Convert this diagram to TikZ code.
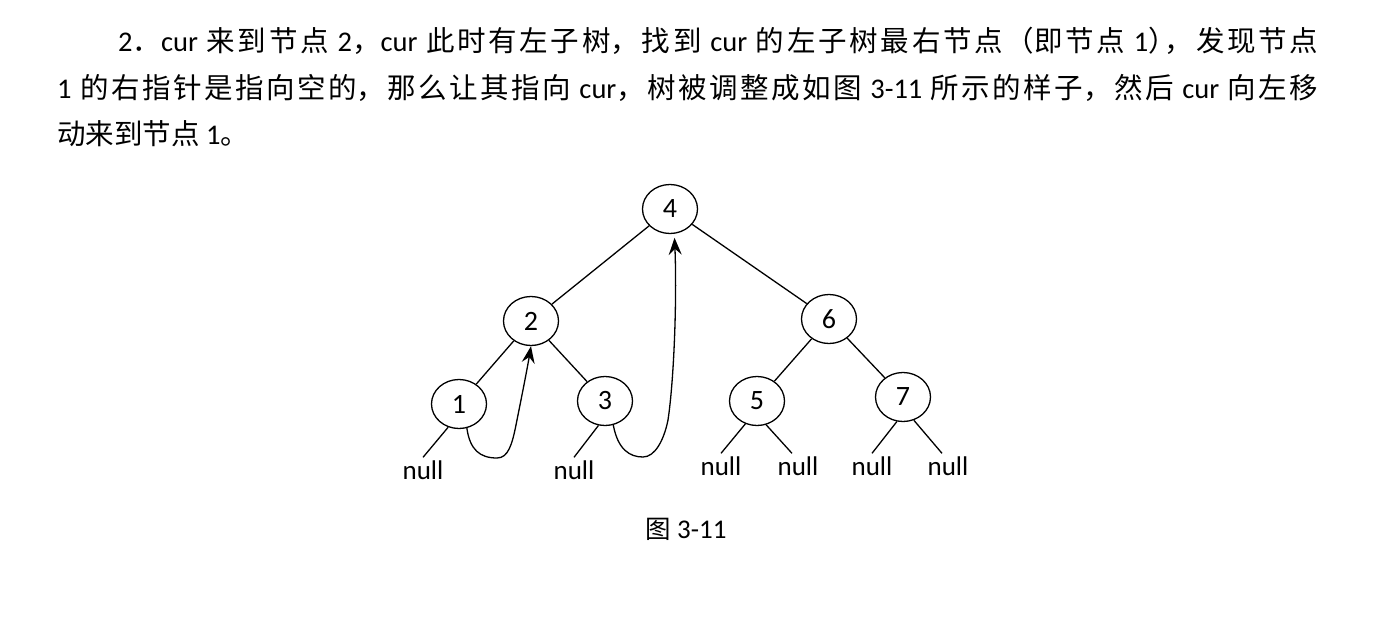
\documentclass[tikz,border=0pt]{standalone}
\usepackage{fontspec}
\setmainfont{Carlito}
\newfontfamily\cjk{Noto Sans CJK SC}
\usetikzlibrary{shapes.geometric,arrows.meta}
\begin{document}
\begin{tikzpicture}[x=1pt,y=-1pt,
  tn/.style={draw, ellipse, line width=1.3pt, minimum width=55pt, minimum height=49pt, inner sep=0pt, font=\fontsize{28}{30}\selectfont},
  nl/.style={inner sep=3pt, font=\fontsize{27}{30}\selectfont},
  edge/.style={line width=1.3pt},
  thr/.style={line width=1.3pt, -{Stealth[length=17pt,width=13pt,inset=6pt]}}]
\useasboundingbox (0,0) rectangle (1400,618);
% paragraph
\node[anchor=base west, inner sep=0pt] (para) at (57,52) {\parbox[t]{1261pt}{\fontsize{28.5}{46.5}\selectfont
\XeTeXlinebreaklocale "zh"\XeTeXlinebreakskip=0pt plus 4pt
\hspace*{61pt}2{\cjk ．}cur {\cjk 来到节点} 2{\cjk ，}cur {\cjk 此时有左子树，找到} cur {\cjk 的左子树最右节点（即节点} 1{\cjk ）\kern-12pt ，发现节点}\linebreak
1 {\cjk 的右指针是指向空的，那么让其指向} cur{\cjk ，树被调整成如图} 3-11 {\cjk 所示的样子，然后} cur {\cjk 向左移}\linebreak
{\cjk 动来到节点} 1{\cjk 。}}};
% tree nodes
\node[tn] (n4) at (670,209) {4};
\node[tn] (n2) at (531,321) {2};
\node[tn] (n6) at (829,319) {6};
\node[tn] (n1) at (459,404) {1};
\node[tn] (n3) at (605,401) {3};
\node[tn] (n5) at (757,401) {5};
\node[tn] (n7) at (903,397) {7};
% null labels
\node[nl] (null1) at (423,470) {null};
\node[nl] (null2) at (574,470) {null};
\node[nl] (null3) at (721,466) {null};
\node[nl] (null4) at (798,466) {null};
\node[nl] (null5) at (872,466) {null};
\node[nl] (null6) at (948,466) {null};
% tree edges
\draw[edge] (n4) -- (n2);
\draw[edge] (n4) -- (n6);
\draw[edge] (n2) -- (n1);
\draw[edge] (n2) -- (n3);
\draw[edge] (n6) -- (n5);
\draw[edge] (n6) -- (n7);
% null edges
\draw[edge] (n1.-115) -- (null1.north);
\draw[edge] (n3.-105) -- (null2.north);
\draw[edge] (n5.-117) -- (null3.north);
\draw[edge] (n5.-69) -- ([xshift=-6pt]null4.north);
\draw[edge] (n7.-104) -- (null5.north);
\draw[edge] (n7.-65) -- ([xshift=-6pt]null6.north);
% threads
\draw[thr] (n1.-72) .. controls (470,450) and (480,458) .. (497,458)
  .. controls (508,458) and (512,445) .. (516,425)
  .. controls (521,400) and (527,370) .. (n2.south);
\draw[thr, shorten >=4pt] (n3.-71) .. controls (618,450) and (630,457) .. (643,457)
  .. controls (655,457) and (664,440) .. (668,420)
  .. controls (674,380) and (677,300) .. (n4.-80);
% caption
\node[font=\fontsize{27}{30}\selectfont, inner sep=0pt] (cap) at (686,529) {{\cjk\fontsize{25.5}{30}\selectfont 图} 3-11};
\end{tikzpicture}
\end{document}
